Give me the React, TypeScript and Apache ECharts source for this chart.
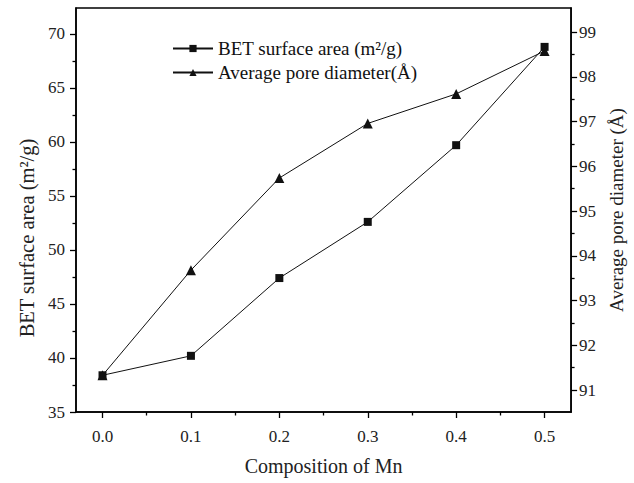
import React, { useEffect, useRef } from "react";
import * as echarts from "echarts";

const xValues = [0.0, 0.1, 0.2, 0.3, 0.4, 0.5];
const betArea = [38.4, 40.2, 47.4, 52.6, 59.7, 68.8];
const poreDiameter = [91.33, 93.68, 95.74, 96.96, 97.62, 98.58];

const xLabelValues = [0.0, 0.1, 0.2, 0.3, 0.4, 0.5];
const xMinorValues = [0.05, 0.15, 0.25, 0.35, 0.45];
const leftLabelValues = [35, 40, 45, 50, 55, 60, 65, 70];
const leftMinorValues = [37.5, 42.5, 47.5, 52.5, 57.5, 62.5, 67.5];
const rightLabelValues = [91, 92, 93, 94, 95, 96, 97, 98, 99];
const rightMinorValues = [91.5, 92.5, 93.5, 94.5, 95.5, 96.5, 97.5, 98.5];

const betName = "BET surface area (m²/g)";
const poreName = "Average pore diameter(Å)";

const FONT = "'Liberation Serif', 'Times New Roman', serif";

export default function App() {
  const ref = useRef<HTMLDivElement>(null);
  useEffect(() => {
    if (!ref.current) return;
    const chart = echarts.init(ref.current, null, { renderer: "svg" });
    const axisLine = { show: true, onZero: false, lineStyle: { color: "#000", width: 1.5 } };
    const hiddenLine = { show: false, onZero: false };
    const majorTick = { show: true, inside: false, length: 6, lineStyle: { color: "#000", width: 1.3 } };
    const minorTick = { show: true, inside: false, length: 3.5, lineStyle: { color: "#000", width: 1.3 } };
    const labelStyle = { color: "#222", fontFamily: FONT, fontSize: 17 };
    const nameStyle = { color: "#222", fontFamily: FONT, fontSize: 19 };
    const xRange = { min: -0.03, max: 0.53 };
    const leftRange = { min: 35, max: 72.4 };
    const rightRange = { min: 90.51, max: 99.54 };
    chart.setOption({
      animation: false,
      backgroundColor: "#fff",
      textStyle: { fontFamily: FONT },
      grid: {
        left: 76,
        right: 60,
        top: 8,
        bottom: 71,
        show: true,
        borderColor: "#000",
        borderWidth: 1.5,
        backgroundColor: "transparent",
      },
      legend: {
        orient: "vertical",
        left: 167,
        top: 34,
        itemWidth: 40,
        itemHeight: 9,
        itemGap: 5,
        textStyle: { color: "#111", fontFamily: FONT, fontSize: 19 },
        data: [betName, poreName],
      },
      xAxis: [
        {
          type: "value",
          ...xRange,
          position: "bottom",
          name: "Composition of Mn",
          nameLocation: "middle",
          nameGap: 44,
          nameTextStyle: { ...nameStyle, fontSize: 20 },
          axisLine,
          axisTick: { ...majorTick, customValues: xLabelValues },
          axisLabel: {
            ...labelStyle,
            margin: 16,
            customValues: xLabelValues,
            formatter: (v: number) => v.toFixed(1),
          },
          splitLine: { show: false },
        },
        {
          type: "value",
          ...xRange,
          position: "bottom",
          offset: 0,
          axisLine: hiddenLine,
          axisTick: { ...minorTick, customValues: xMinorValues },
          axisLabel: { show: false },
          splitLine: { show: false },
        },
      ],
      yAxis: [
        {
          type: "value",
          position: "left",
          ...leftRange,
          name: "BET surface area (m²/g)",
          nameLocation: "middle",
          nameRotate: 90,
          nameGap: 39,
          nameTextStyle: { ...nameStyle, fontSize: 20.5, padding: [0, 56, 0, 0] },
          axisLine,
          axisTick: { ...majorTick, customValues: leftLabelValues },
          axisLabel: { ...labelStyle, margin: 11, customValues: leftLabelValues },
          splitLine: { show: false },
        },
        {
          type: "value",
          position: "right",
          ...rightRange,
          name: "Average pore diameter (Å)",
          nameLocation: "middle",
          nameRotate: 90,
          nameGap: 35,
          nameTextStyle: nameStyle,
          axisLine,
          axisTick: { ...majorTick, customValues: rightLabelValues },
          axisLabel: { ...labelStyle, margin: 8, customValues: rightLabelValues },
          splitLine: { show: false },
        },
        {
          type: "value",
          position: "left",
          offset: 0,
          ...leftRange,
          axisLine: hiddenLine,
          axisTick: { ...minorTick, customValues: leftMinorValues },
          axisLabel: { show: false },
          splitLine: { show: false },
        },
        {
          type: "value",
          position: "right",
          offset: 0,
          ...rightRange,
          axisLine: hiddenLine,
          axisTick: { ...minorTick, customValues: rightMinorValues },
          axisLabel: { show: false },
          splitLine: { show: false },
        },
      ],
      series: [
        {
          name: betName,
          type: "line",
          xAxisIndex: 0,
          yAxisIndex: 0,
          data: xValues.map((x, i) => [x, betArea[i]]),
          symbol: "rect",
          symbolSize: 8,
          lineStyle: { color: "#111", width: 1 },
          itemStyle: { color: "#111" },
        },
        {
          name: poreName,
          type: "line",
          xAxisIndex: 0,
          yAxisIndex: 1,
          data: xValues.map((x, i) => [x, poreDiameter[i]]),
          symbol: "triangle",
          symbolSize: 10,
          lineStyle: { color: "#111", width: 1 },
          itemStyle: { color: "#111" },
        },
      ],
    });
    return () => chart.dispose();
  }, []);
  return (
    <div
      ref={ref}
      style={{ position: "absolute", left: 0, top: 0, width: 634, height: 483, background: "#fff" }}
    />
  );
}
